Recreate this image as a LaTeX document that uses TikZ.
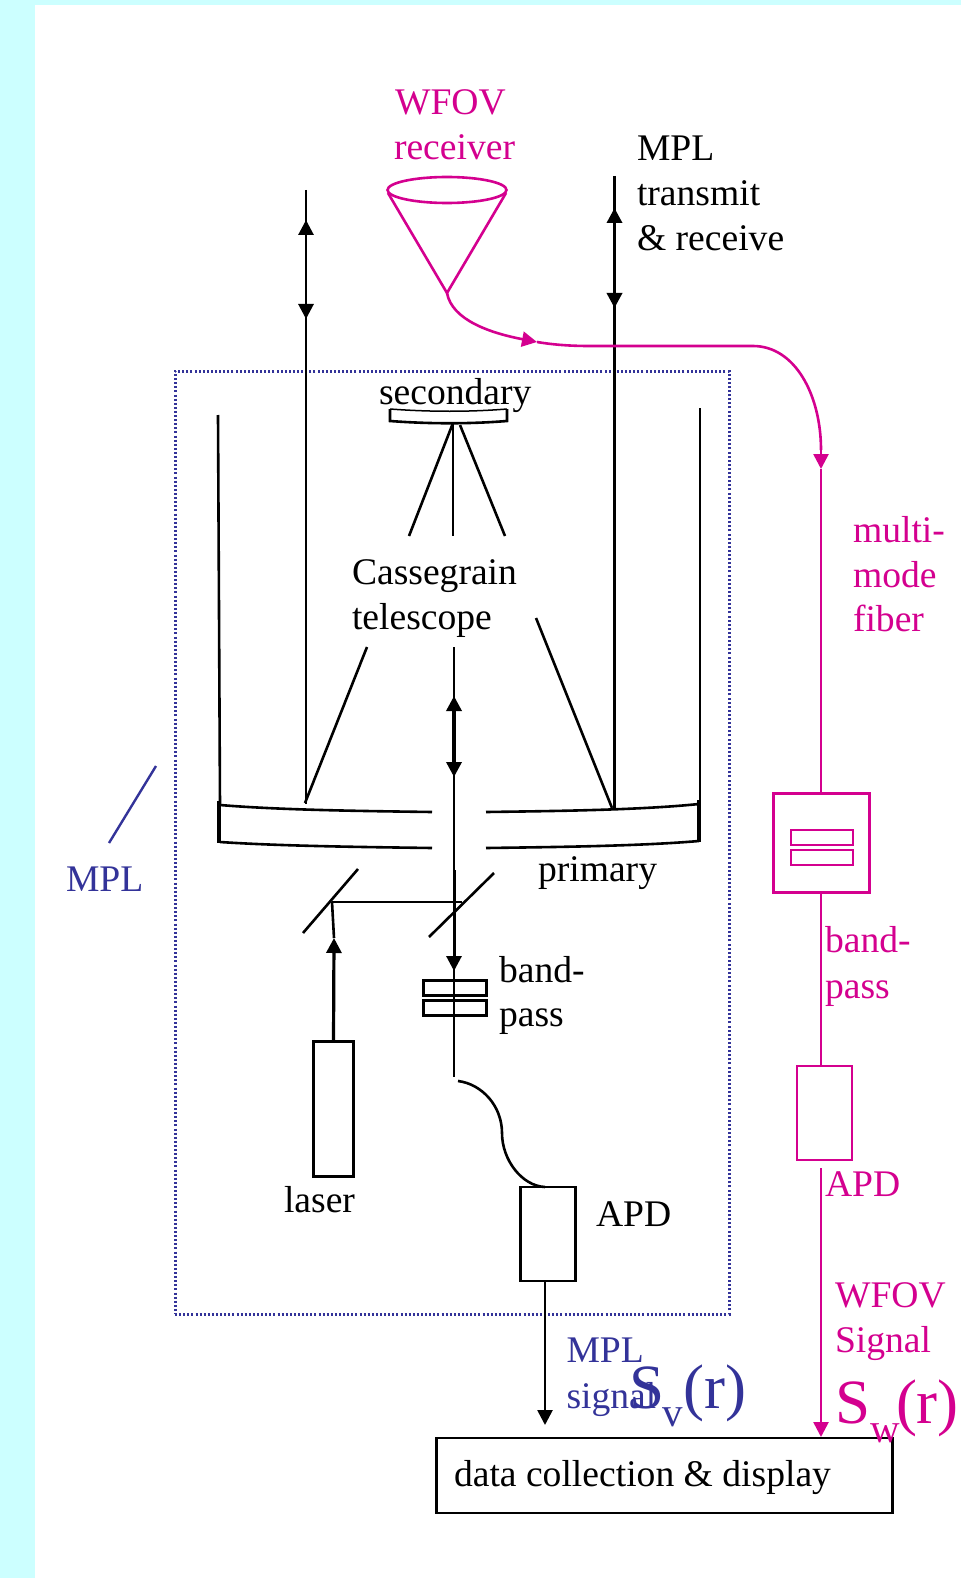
\documentclass[tikz,border=0pt]{standalone}
\usepackage{fontspec}
\setmainfont{Liberation Serif}
\usetikzlibrary{arrows.meta,shapes.geometric}
\definecolor{bgcyan}{HTML}{CCFFFF}
\definecolor{wfov}{HTML}{D4008F}
\definecolor{mplblue}{HTML}{333399}
\tikzset{
  lbl/.style={anchor=base west,inner sep=0pt,outer sep=0pt,font=\fontsize{37.6}{45}\selectfont},
  biglbl/.style={anchor=base west,inner sep=0pt,outer sep=0pt,font=\fontsize{63}{70}\selectfont},
  sublbl/.style={anchor=base west,inner sep=0pt,outer sep=0pt,font=\fontsize{41}{48}\selectfont},
  ln/.style={line width=2.6pt,black},
  pk/.style={line width=2.6pt,wfov},
  boxb/.style={draw=black,line width=2.7pt,rectangle,inner sep=0pt,outer sep=0pt},
  boxp/.style={draw=wfov,line width=2.7pt,rectangle,inner sep=0pt,outer sep=0pt},
  tip/.style={-{Triangle[length=15pt,width=15pt]}},
  dbl/.style={{Triangle[length=15pt,width=15pt]}-{Triangle[length=15pt,width=15pt]},line width=3.4pt},
}
\begin{document}
\begin{tikzpicture}[x=1pt,y=-1pt]
\useasboundingbox (0,0) rectangle (961,1578);
\fill[bgcyan] (0,0) rectangle (961,1578);
\fill[white] (35,5) rectangle (961,1578);

% MPL dotted enclosure
\node[draw=mplblue,line width=3pt,dash pattern=on 2pt off 2.1pt,rectangle,inner sep=0pt,
      minimum width=554pt,minimum height=943pt] (mplbox) at (452,842.5) {};

% boxes
\node[boxb,minimum width=456pt,minimum height=75pt] (data) at (664.5,1475.5) {};
\node[boxb,minimum width=55pt,minimum height=94pt] (apd) at (548,1234) {};
\node[boxb,minimum width=40pt,minimum height=135pt] (laser) at (333.5,1109) {};
\node[boxb,minimum width=63pt,minimum height=15pt] (bp1) at (455,988) {};
\node[boxb,minimum width=63pt,minimum height=15pt] (bp2) at (455,1008) {};
\node[boxp,minimum width=96pt,minimum height=99pt] (fbox) at (821.5,843) {};
\node[boxp,minimum width=62pt,minimum height=15pt] (fbp1) at (822,837.5) {};
\node[boxp,minimum width=62pt,minimum height=15pt] (fbp2) at (822,857.5) {};
\node[boxp,minimum width=55pt,minimum height=94pt] (papd) at (824.5,1113) {};

% free ends
\coordinate (rA) at (614.5,176);
\coordinate (rB) at (614.5,808);
\coordinate (rU) at (614.5,208);
\coordinate (rD) at (614.5,308);
\coordinate (lA) at (306,190);
\coordinate (lB) at (306,804);
\coordinate (lU) at (306,220);
\coordinate (lD) at (306,319);
\coordinate (cA) at (454,647);
\coordinate (cB) at (454,1077);
\coordinate (cU) at (454,696);
\coordinate (cD) at (454,777);
\coordinate (cE) at (454,870);
\coordinate (cF) at (454,971);
\coordinate (apex) at (447,293);
\coordinate (bendA) at (537,342);
\coordinate (bendB) at (590,346);
\coordinate (bendC) at (753,346);
\coordinate (fibA) at (821,450);
\coordinate (fibTip) at (821,469);
\coordinate (pA) at (821,1168);
\coordinate (pTip) at (821,1437);
\coordinate (apdTip) at (545,1425);
\coordinate (wA) at (458,1081);
\coordinate (wB) at (502,1133);
\coordinate (wC) at (545,1187);
\coordinate (splitL) at (332,902);
\coordinate (splitR) at (462,902);
\coordinate (lasTip) at (334,938);

% left and right beams
\draw[ln] (lA) -- (lB);
\draw[dbl,line width=2.9pt] (lU) -- (lD);
\draw[ln] (rA) -- (rB);
\draw[dbl] (rU) -- (rD);

% telescope tube
\coordinate (wl1) at (218,415); \coordinate (wl2) at (220,806);
\coordinate (wr1) at (700,408); \coordinate (wr2) at (700,804);
\draw[ln] (wl1) -- (wl2);
\draw[ln] (wr1) -- (wr2);

% primary mirror
\coordinate (pl1) at (220,805); \coordinate (pl2) at (432,812);
\coordinate (pl3) at (220,842); \coordinate (pl4) at (432,848);
\coordinate (pr1) at (486,812); \coordinate (pr2) at (699,804);
\coordinate (pr3) at (486,848); \coordinate (pr4) at (699,841);
\draw[ln] (pl1) .. controls (280,810) and (360,811) .. (pl2);
\draw[ln] (pl3) .. controls (280,846) and (360,847) .. (pl4);
\draw[ln] (pr1) .. controls (560,811) and (640,810) .. (pr2);
\draw[ln] (pr3) .. controls (560,847) and (640,846) .. (pr4);
\coordinate (el1) at (219,801); \coordinate (el2) at (219,843);
\coordinate (er1) at (699,800); \coordinate (er2) at (699,842);
\draw[line width=3.2pt] (el1) -- (el2);
\draw[line width=3.2pt] (er1) -- (er2);

% secondary mirror
\coordinate (s1) at (390,409); \coordinate (s2) at (390,421);
\coordinate (s3) at (507,421); \coordinate (s4) at (507,409);
\draw[ln] (s1) -- (s2) .. controls (430,424) and (470,424) .. (s3) -- (s4);
\draw[line width=1.5pt] (s1) .. controls (430,412) and (470,412) .. (s4);

% struts
\coordinate (st0) at (453,423); \coordinate (st0r) at (460,425);
\coordinate (st1) at (409,536); \coordinate (st2) at (453,536); \coordinate (st3) at (505,536);
\coordinate (st4) at (367,647); \coordinate (st5) at (305,803);
\coordinate (st6) at (536,618); \coordinate (st7) at (612,808);
\draw[ln] (st0) -- (st1);
\draw[ln] (st0) -- (st2);
\draw[ln] (st0r) -- (st3);
\draw[ln] (st4) -- (st5);
\draw[ln] (st6) -- (st7);

% central beam
\draw[ln] (cA) -- (cB);
\draw[dbl] (cU) -- (cD);
\draw[line width=3pt,tip] (cE) -- (cF);

% beam splitters
\coordinate (b1) at (303,933); \coordinate (b2) at (358,869);
\coordinate (b3) at (429,937); \coordinate (b4) at (494,873);
\draw[ln] (b1) -- (b2);
\draw[ln] (b3) -- (b4);
\draw[ln] (splitL) -- (splitR);
\draw[ln] (splitL) -- (lasTip);
\draw[line width=3.2pt,tip] (laser.north) -- (lasTip);

% fibre to APD
\draw[ln] (wA) .. controls (482,1084) and (502,1106) .. (wB) .. controls (502,1160) and (522,1186) .. (wC);
\draw[ln,tip] (apd.south -| apdTip) -- (apdTip);

% navy MPL pointer
\coordinate (m1) at (156,766); \coordinate (m2) at (109,843);
\draw[line width=2.4pt,mplblue] (m1) -- (m2);

% WFOV receiver cone
\node[draw=wfov,line width=2.6pt,ellipse,inner sep=0pt,minimum width=119pt,minimum height=26pt] (cone) at (447,190) {};
\coordinate (cl) at (388,193); \coordinate (cr) at (506,193);
\draw[pk] (cl) -- (apex) -- (cr);
\draw[pk,tip] (apex) .. controls (452,320) and (490,333) .. (bendA);
\draw[pk] (bendA) .. controls (555,345) and (572,346) .. (bendB) -- (bendC)
     .. controls (795,346) and (821,395) .. (fibA);
\draw[pk,tip] (fibA) -- (fibTip);
\draw[pk] (fibTip) -- (fbox.north -| fibTip);
\draw[pk] (fbox.south -| fibTip) -- (papd.north -| fibTip);
\draw[pk,tip] (pA) -- (pTip);

% black labels
\node[lbl] (t1) at (637,161) {MPL};
\node[lbl] (t2) at (637,206) {transmit};
\node[lbl] (t3) at (637,251) {\& receive};
\node[lbl] (t4) at (379,404) {secondary};
\node[lbl] (t5) at (352,584) {Cassegrain};
\node[lbl] (t6) at (352,629) {telescope};
\node[lbl] (t7) at (538,881) {primary};
\node[lbl] (t8) at (499,982) {band-};
\node[lbl] (t9) at (499,1026) {pass};
\node[lbl] (t10) at (284,1212) {laser};
\node[lbl] (t11) at (596,1226) {APD};
\node[lbl] (t12) at (454,1486) {data collection \& display};

% magenta labels
\begin{scope}[text=wfov]
\node[lbl] (p1) at (395,115) {WFOV};
\node[lbl] (p2) at (394,160) {receiver};
\node[lbl] (p3) at (853,542) {multi-};
\node[lbl] (p4) at (853,587) {mode};
\node[lbl] (p5) at (853,631) {fiber};
\node[lbl] (p6) at (825,952) {band-};
\node[lbl] (p7) at (825,998) {pass};
\node[lbl] (p8) at (825,1196) {APD};
\node[lbl] (p9) at (835,1307) {WFOV};
\node[lbl] (p10) at (835,1352) {Signal};
\node[biglbl] (p11) at (835,1423) {S};
\node[sublbl] (p12) at (870,1442) {w};
\node[biglbl] (p13) at (896,1423) {(r)};
\end{scope}

% navy labels
\begin{scope}[text=mplblue]
\node[lbl] (n1) at (66,891) {MPL};
\node[lbl] (n2) at (566.5,1362) {MPL};
\node[lbl] (n3) at (566.5,1408) {signal};
\node[biglbl] (n4) at (629,1408) {S};
\node[sublbl] (n5) at (662,1426) {v};
\node[biglbl] (n6) at (683.5,1408) {(r)};
\end{scope}
\end{tikzpicture}
\end{document}
